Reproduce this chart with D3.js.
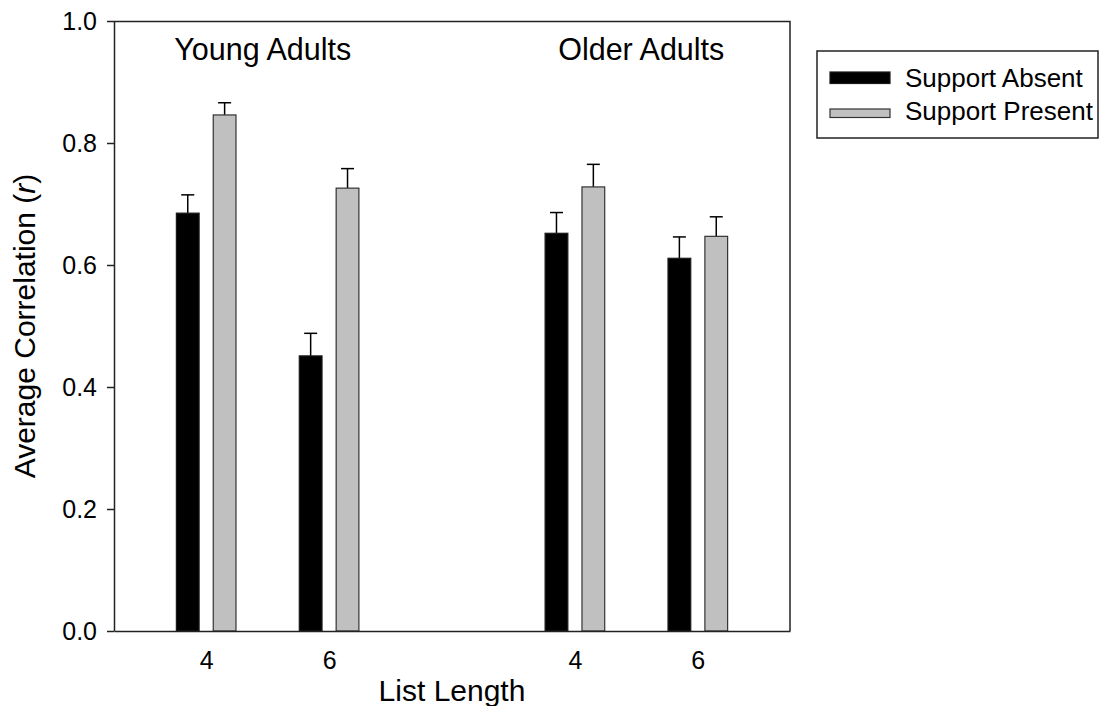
<!DOCTYPE html>
<html>
<head>
<meta charset="utf-8">
<script src="https://cdn.jsdelivr.net/npm/d3@7"></script>
<style>
  body { margin: 0; background: #fff; }
  svg text { font-family: Arial, "Liberation Sans", sans-serif; fill: #000; }
</style>
</head>
<body>
<div id="chart"></div>
<script>
// Values
const positions = [ 1, 2, 4, 5 ];                 // x slot of each list-length group
const tickLabels = [ '4', '6', '4', '6' ];
const series = [ 'Support Absent', 'Support Present' ];
const absentMean = [ 0.685, 0.451, 0.652, 0.611 ];
const absentErr = [ 0.030, 0.037, 0.034, 0.035 ];
const presentMean = [ 0.846, 0.726, 0.728, 0.647 ];
const presentErr = [ 0.020, 0.032, 0.037, 0.032 ];
const groupTitles = [ 'Young Adults', 'Older Adults' ];
const groupTitlePos = [ 1.46, 4.54 ];
const yTicks = [ 0, 0.2, 0.4, 0.6, 0.8, 1.0 ];

const figure_width = 1101;
const figure_height = 706;

const plot_margin = { top: 21, right: 311, bottom: 75, left: 114 },
    plot_width = figure_width - plot_margin.left - plot_margin.right,
    plot_height = figure_height - plot_margin.top - plot_margin.bottom;

const svg = d3.select( 'div#chart' )
  .append( 'svg' )
    .attr( 'width', figure_width )
    .attr( 'height', figure_height );

const g = svg.append( 'g' )
    .attr( 'transform', 'translate( ' + plot_margin.left + ', ' + plot_margin.top + ' )' );

const x = d3.scaleLinear()
  .domain( [ 0.25, 5.75 ] )
  .range( [ 0, plot_width ] );

const y = d3.scaleLinear()
  .domain( [ 0, 1 ] )
  .range( [ plot_height, 0 ] );

const barW = 0.185;   // bar width in x units
const offset = 0.15;  // distance of bar centre from group centre

// rows for bars
const rows = [];
positions.forEach( function( p, i ) {
  rows.push( { key: series[0], pos: p - offset, value: absentMean[i], err: absentErr[i] } );
  rows.push( { key: series[1], pos: p + offset, value: presentMean[i], err: presentErr[i] } );
});

const fill = d3.scaleOrdinal().domain( series ).range( [ '#000000', '#c0c0c0' ] );
const stroke = d3.scaleOrdinal().domain( series ).range( [ '#1a1a1a', '#333333' ] );

// error bars (upper only), drawn before bars
const eb = g.append( 'g' ).selectAll( 'g' ).data( rows ).enter().append( 'g' );
eb.append( 'line' )
  .attr( 'x1', function( d ) { return x( d.pos ); } )
  .attr( 'x2', function( d ) { return x( d.pos ); } )
  .attr( 'y1', function( d ) { return y( d.value ); } )
  .attr( 'y2', function( d ) { return y( d.value + d.err ); } )
  .attr( 'stroke', '#000' ).attr( 'stroke-width', 1.5 );
eb.append( 'line' )
  .attr( 'x1', function( d ) { return x( d.pos ) - 6.5; } )
  .attr( 'x2', function( d ) { return x( d.pos ) + 6.5; } )
  .attr( 'y1', function( d ) { return y( d.value + d.err ); } )
  .attr( 'y2', function( d ) { return y( d.value + d.err ); } )
  .attr( 'stroke', '#000' ).attr( 'stroke-width', 1.5 );

// bars
g.append( 'g' ).selectAll( 'rect' )
  .data( rows )
  .enter().append( 'rect' )
    .attr( 'x', function( d ) { return x( d.pos - barW / 2 ); } )
    .attr( 'y', function( d ) { return y( d.value ); } )
    .attr( 'width', x( barW ) - x( 0 ) )
    .attr( 'height', function( d ) { return plot_height - y( d.value ); } )
    .attr( 'fill', function( d ) { return fill( d.key ); } )
    .attr( 'stroke', function( d ) { return stroke( d.key ); } )
    .attr( 'stroke-width', 1.2 );

// frame (top + right), left + bottom come from axes
g.append( 'path' )
  .attr( 'd', 'M0,0.5H' + plot_width + 'V' + plot_height )
  .attr( 'fill', 'none' ).attr( 'stroke', '#222' ).attr( 'stroke-width', 1.5 );

// Y axis
const yAxis = g.append( 'g' )
  .call( d3.axisLeft( y ).tickValues( yTicks ).tickFormat( d3.format( '.1f' ) ).tickSize( 7 ).tickSizeOuter( 0 ) );
yAxis.select( '.domain' ).attr( 'stroke', '#222' ).attr( 'stroke-width', 1.5 );
yAxis.selectAll( '.tick line' ).attr( 'stroke', '#222' ).attr( 'stroke-width', 1.5 );
yAxis.selectAll( '.tick text' ).attr( 'x', -17 ).style( 'font-size', '25px' ).attr( 'fill', '#000' );

// X axis
const xAxis = g.append( 'g' )
  .attr( 'transform', 'translate(0,' + plot_height + ')' )
  .call( d3.axisBottom( x ).tickValues( positions ).tickFormat( function( d, i ) { return tickLabels[i]; } ).tickSize( 0 ).tickSizeOuter( 0 ) );
xAxis.select( '.domain' ).attr( 'stroke', '#222' ).attr( 'stroke-width', 1.5 );
xAxis.selectAll( '.tick text' ).attr( 'y', 20 ).style( 'font-size', '25px' ).attr( 'fill', '#000' );

// Group titles
g.selectAll( 'text.group' )
  .data( groupTitles )
  .enter().append( 'text' )
    .attr( 'class', 'group' )
    .attr( 'x', function( d, i ) { return x( groupTitlePos[i] ); } )
    .attr( 'y', 39 )
    .attr( 'text-anchor', 'middle' )
    .style( 'font-size', '30.5px' )
    .text( function( d ) { return d; } );

// Axis titles
svg.append( 'text' )
  .attr( 'x', plot_margin.left + plot_width / 2 )
  .attr( 'y', 701 )
  .attr( 'text-anchor', 'middle' )
  .style( 'font-size', '30px' )
  .text( 'List Length' );

const yt = svg.append( 'text' )
  .attr( 'transform', 'translate(35,' + ( plot_margin.top + plot_height / 2 ) + ') rotate(-90)' )
  .attr( 'text-anchor', 'middle' )
  .style( 'font-size', '30px' );
yt.append( 'tspan' ).text( 'Average Correlation (' );
yt.append( 'tspan' ).style( 'font-style', 'italic' ).text( 'r' );
yt.append( 'tspan' ).text( ')' );

// Legend
const legend = svg.append( 'g' ).attr( 'transform', 'translate(817,51)' );
legend.append( 'rect' )
  .attr( 'x', 0 ).attr( 'y', 0 ).attr( 'width', 281 ).attr( 'height', 87 )
  .attr( 'fill', '#fff' ).attr( 'stroke', '#222' ).attr( 'stroke-width', 1.5 );
const items = legend.selectAll( 'g.item' ).data( series ).enter().append( 'g' )
  .attr( 'transform', function( d, i ) { return 'translate(0,' + ( i * 33 ) + ')'; } );
items.append( 'rect' )
  .attr( 'x', 13 )
  .attr( 'y', function( d, i ) { return i === 0 ? 21 : 25; } )
  .attr( 'width', 60 )
  .attr( 'height', function( d, i ) { return i === 0 ? 11.5 : 8.5; } )
  .attr( 'fill', function( d ) { return fill( d ); } )
  .attr( 'stroke', function( d ) { return stroke( d ); } )
  .attr( 'stroke-width', 1.2 );
items.append( 'text' )
  .attr( 'x', 88 )
  .attr( 'y', 36 )
  .style( 'font-size', '26px' )
  .text( function( d ) { return d; } );
</script>
</body>
</html>
